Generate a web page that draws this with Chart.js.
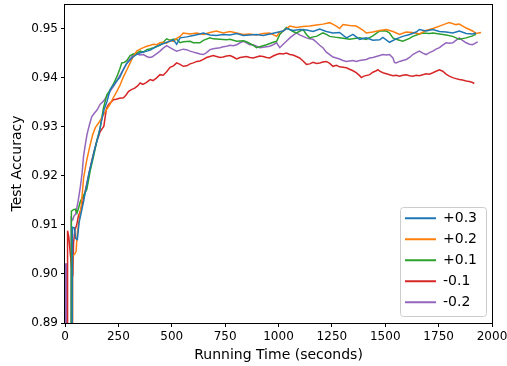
<!DOCTYPE html>
<html><head><meta charset="utf-8">
<script src="https://cdn.jsdelivr.net/npm/chart.js@4/dist/chart.umd.min.js"></script>
<style>html,body{margin:0;padding:0;background:#fff;}canvas{display:block;}</style>
</head><body>
<canvas id="c" width="507" height="366"></canvas>
<script>
const seriesLabels = ['+0.3', '+0.2', '+0.1', '-0.1', '-0.2'];
const seriesColors = ['#1f77b4', '#ff7f0e', '#2ca02c', '#d62728', '#9467bd'];
const xTickValues = [0, 250, 500, 750, 1000, 1250, 1500, 1750, 2000];
const yTickValues = [0.89, 0.90, 0.91, 0.92, 0.93, 0.94, 0.95];
const xTitle = 'Running Time (seconds)';
const yTitle = 'Test Accuracy';

// [seconds, accuracy]
const accPlus03 = [[0,0.85],[32,0.85],[35,0.9095],[44,0.9094],[50,0.9072],[58,0.9070],[66,0.9105],[76,0.9125],[88,0.915],[100,0.9178],[112,0.9205],[125,0.9228],[140,0.9256],[157,0.9282],[170,0.931],[183,0.9335],[197,0.9352],[212,0.9376],[226,0.9384],[240,0.9392],[256,0.9400],[273,0.9416],[287,0.9428],[300,0.9434],[320,0.9443],[335,0.9447],[350,0.9450],[367,0.9452],[383,0.9454],[400,0.9456],[415,0.9460],[430,0.9463],[445,0.9467],[460,0.9469],[476,0.9472],[492,0.9474],[508,0.9477],[523,0.9468],[539,0.9481],[570,0.9483],[601,0.9486],[632,0.9489],[648,0.9491],[679,0.9487],[710,0.9486],[741,0.9488],[773,0.9487],[804,0.9490],[835,0.9486],[866,0.9487],[897,0.9488],[928,0.9486],[960,0.9489],[991,0.9492],[1022,0.9495],[1037,0.9500],[1068,0.9496],[1100,0.9498],[1131,0.9497],[1162,0.9494],[1193,0.9499],[1224,0.9494],[1255,0.9491],[1286,0.9492],[1318,0.9481],[1349,0.9488],[1380,0.9478],[1411,0.9481],[1442,0.9476],[1474,0.9477],[1489,0.9482],[1520,0.9472],[1551,0.9479],[1582,0.9484],[1614,0.9488],[1645,0.9493],[1660,0.9498],[1691,0.9495],[1723,0.9498],[1754,0.9494],[1785,0.9493],[1816,0.9491],[1847,0.9495],[1879,0.9490],[1909,0.9489],[1925,0.9491]];
const accPlus02 = [[0,0.85],[33,0.85],[36,0.9037],[45,0.9040],[52,0.9046],[58,0.9085],[66,0.9108],[76,0.9138],[87,0.9195],[100,0.9228],[115,0.9258],[130,0.9284],[142,0.9298],[158,0.9308],[172,0.9318],[185,0.9328],[196,0.9336],[210,0.9345],[225,0.9358],[243,0.9372],[258,0.9385],[274,0.9402],[290,0.9416],[305,0.9430],[320,0.9443],[336,0.9454],[352,0.9458],[367,0.9461],[383,0.9464],[400,0.9466],[415,0.9468],[430,0.9467],[445,0.9471],[460,0.9472],[476,0.9470],[492,0.9476],[508,0.9474],[523,0.9480],[539,0.9484],[554,0.9491],[586,0.9489],[617,0.9491],[648,0.9488],[679,0.9492],[709,0.9495],[741,0.9491],[773,0.9494],[804,0.9491],[835,0.9488],[866,0.9489],[897,0.9487],[928,0.9490],[959,0.9491],[991,0.9484],[1006,0.9493],[1022,0.9495],[1053,0.9505],[1084,0.9502],[1115,0.9504],[1146,0.9505],[1178,0.9507],[1208,0.9509],[1240,0.9512],[1271,0.9505],[1286,0.9500],[1302,0.9508],[1333,0.9506],[1364,0.9505],[1395,0.9497],[1411,0.9491],[1442,0.9493],[1474,0.9496],[1505,0.9498],[1536,0.9494],[1567,0.9488],[1598,0.9493],[1629,0.9492],[1660,0.9489],[1691,0.9496],[1723,0.9500],[1754,0.9505],[1785,0.9510],[1800,0.9512],[1831,0.9508],[1847,0.9509],[1879,0.9501],[1909,0.9495],[1925,0.9490],[1949,0.9492]];
const accPlus01 = [[0,0.85],[28,0.85],[30,0.9128],[40,0.9131],[48,0.9132],[56,0.9124],[64,0.9135],[72,0.9148],[87,0.9160],[102,0.9172],[118,0.9210],[134,0.9240],[150,0.9273],[165,0.9298],[180,0.9338],[196,0.9365],[210,0.9374],[227,0.9387],[245,0.9404],[257,0.9418],[266,0.9430],[278,0.9431],[290,0.9435],[305,0.9445],[320,0.9448],[336,0.9450],[352,0.9454],[367,0.9452],[383,0.9457],[400,0.9459],[415,0.9461],[430,0.9464],[445,0.9466],[460,0.9472],[476,0.9479],[492,0.9476],[508,0.9478],[523,0.9478],[539,0.9471],[554,0.9473],[586,0.9474],[601,0.9471],[632,0.9471],[648,0.9476],[679,0.9481],[694,0.9479],[726,0.9478],[757,0.9477],[773,0.9478],[804,0.9474],[835,0.9475],[850,0.9473],[881,0.9466],[897,0.9461],[928,0.9465],[944,0.9467],[975,0.9472],[991,0.9474],[1006,0.9488],[1022,0.9495],[1037,0.9502],[1053,0.9498],[1068,0.9494],[1084,0.9491],[1115,0.9498],[1131,0.9488],[1146,0.9481],[1162,0.9483],[1178,0.9484],[1208,0.9491],[1224,0.9488],[1240,0.9484],[1271,0.9482],[1286,0.9481],[1318,0.9479],[1333,0.9478],[1364,0.9480],[1380,0.9481],[1411,0.9478],[1442,0.9485],[1474,0.9495],[1505,0.9495],[1520,0.9491],[1536,0.9481],[1551,0.9478],[1582,0.9474],[1614,0.9480],[1629,0.9484],[1660,0.9489],[1676,0.9491],[1707,0.9490],[1723,0.9491],[1754,0.9489],[1785,0.9487],[1816,0.9484],[1847,0.9478],[1879,0.9481],[1909,0.9485],[1925,0.9488]];
const accMinus01 = [[0,0.85],[11,0.85],[12,0.9088],[18,0.9075],[25,0.9040],[32,0.9010],[37,0.9003],[40,0.9063],[47,0.9090],[55,0.9100],[63,0.9118],[71,0.9127],[80,0.9140],[90,0.9160],[103,0.9185],[115,0.9210],[126,0.9232],[138,0.9252],[150,0.9272],[165,0.9290],[182,0.9301],[190,0.9325],[195,0.9338],[205,0.9346],[216,0.9350],[227,0.9355],[240,0.9356],[255,0.9358],[274,0.9359],[285,0.9364],[298,0.9372],[313,0.9376],[325,0.9378],[340,0.9383],[352,0.9389],[365,0.9386],[380,0.9390],[399,0.9396],[412,0.9394],[428,0.9399],[445,0.9406],[460,0.9405],[476,0.9412],[492,0.9421],[508,0.9424],[523,0.9430],[539,0.9427],[554,0.9423],[570,0.9424],[586,0.9428],[601,0.9430],[617,0.9433],[632,0.9434],[648,0.9437],[663,0.9441],[679,0.9443],[694,0.9445],[710,0.9443],[726,0.9441],[741,0.9442],[757,0.9444],[773,0.9445],[788,0.9442],[804,0.9438],[820,0.9441],[835,0.9442],[850,0.9443],[866,0.9441],[881,0.9440],[897,0.9442],[912,0.9444],[928,0.9443],[944,0.9441],[959,0.9440],[975,0.9444],[991,0.9447],[1006,0.9449],[1022,0.9448],[1037,0.9450],[1053,0.9447],[1068,0.9446],[1084,0.9443],[1099,0.9440],[1115,0.9434],[1131,0.9427],[1146,0.9428],[1162,0.9431],[1178,0.9429],[1193,0.9430],[1208,0.9432],[1224,0.9433],[1240,0.9429],[1255,0.9423],[1271,0.9425],[1286,0.9422],[1302,0.9421],[1318,0.9420],[1333,0.9417],[1349,0.9414],[1364,0.9410],[1380,0.9404],[1388,0.9400],[1400,0.9403],[1427,0.9406],[1442,0.9411],[1458,0.9414],[1466,0.9416],[1474,0.9413],[1489,0.9410],[1505,0.9408],[1520,0.9406],[1536,0.9404],[1551,0.9405],[1567,0.9403],[1582,0.9405],[1598,0.9406],[1614,0.9404],[1629,0.9403],[1645,0.9405],[1660,0.9404],[1676,0.9406],[1691,0.9408],[1707,0.9407],[1723,0.9410],[1738,0.9413],[1754,0.9416],[1769,0.9413],[1785,0.9407],[1800,0.9403],[1816,0.9400],[1831,0.9398],[1847,0.9396],[1862,0.9395],[1879,0.9393],[1894,0.9392],[1909,0.9390],[1917,0.9388]];
const accMinus02 = [[0,0.85],[2,0.9020],[8,0.9020],[10,0.85],[27,0.85],[29,0.9114],[36,0.9110],[42,0.9118],[50,0.9122],[62,0.9150],[72,0.9178],[80,0.9205],[87,0.9240],[95,0.9263],[103,0.9284],[112,0.9300],[125,0.9320],[138,0.9328],[150,0.9334],[165,0.9346],[180,0.9352],[196,0.9362],[211,0.9372],[227,0.9382],[242,0.9393],[258,0.9405],[270,0.9414],[282,0.9423],[295,0.9433],[308,0.9440],[320,0.9447],[335,0.9449],[350,0.9446],[367,0.9447],[383,0.9443],[395,0.9441],[407,0.9442],[420,0.9446],[433,0.9450],[445,0.9454],[460,0.9460],[476,0.9465],[492,0.9461],[508,0.9457],[523,0.9454],[539,0.9456],[554,0.9458],[569,0.9457],[586,0.9454],[601,0.9452],[617,0.9450],[632,0.9448],[648,0.9447],[663,0.9451],[679,0.9457],[694,0.9459],[710,0.9460],[726,0.9461],[741,0.9463],[757,0.9464],[773,0.9466],[788,0.9465],[804,0.9467],[820,0.9471],[835,0.9474],[850,0.9471],[866,0.9467],[881,0.9467],[897,0.9464],[913,0.9461],[928,0.9462],[944,0.9463],[959,0.9464],[975,0.9467],[991,0.9471],[1006,0.9461],[1022,0.9468],[1037,0.9474],[1053,0.9481],[1068,0.9486],[1084,0.9491],[1099,0.9487],[1115,0.9484],[1131,0.9481],[1146,0.9479],[1162,0.9478],[1178,0.9472],[1193,0.9466],[1208,0.9461],[1224,0.9452],[1240,0.9447],[1255,0.9442],[1271,0.9440],[1286,0.9438],[1302,0.9435],[1318,0.9433],[1333,0.9434],[1349,0.9435],[1364,0.9433],[1380,0.9435],[1395,0.9436],[1411,0.9437],[1427,0.9440],[1442,0.9441],[1458,0.9443],[1474,0.9445],[1489,0.9447],[1505,0.9446],[1520,0.9447],[1536,0.9440],[1543,0.9431],[1551,0.9430],[1567,0.9433],[1582,0.9435],[1598,0.9437],[1614,0.9441],[1629,0.9447],[1645,0.9451],[1660,0.9454],[1676,0.9450],[1691,0.9447],[1707,0.9451],[1723,0.9454],[1738,0.9458],[1754,0.9461],[1769,0.9466],[1785,0.9471],[1800,0.9470],[1816,0.9471],[1831,0.9476],[1847,0.9481],[1862,0.9476],[1879,0.9471],[1894,0.9468],[1909,0.9467],[1933,0.9473]];

const seriesData = [accPlus03, accPlus02, accPlus01, accMinus01, accMinus02];

const FONT = 'DejaVu Sans';

const framePlugin = {
  id: 'mplFrame',
  beforeDraw(chart) {
    const lg = chart.legend;
    if (lg) {
      lg.left = 398; lg.top = 204.3; lg.width = 92; lg.height = 116;
      lg.right = lg.left + lg.width; lg.bottom = lg.top + lg.height;
    }
    const ctx = chart.ctx;
    ctx.save();
    ctx.beginPath();
    ctx.roundRect(400.5, 207.5, 86, 109, 3);
    ctx.fillStyle = 'rgba(255,255,255,0.8)';
    ctx.fill();
    ctx.strokeStyle = '#cccccc';
    ctx.lineWidth = 1;
    ctx.stroke();
    ctx.restore();
  },
  afterDraw(chart) {
    const {left, top, right, bottom} = chart.chartArea;
    const ctx = chart.ctx;
    ctx.save();
    ctx.strokeStyle = '#000';
    ctx.lineWidth = 1;
    ctx.strokeRect(left - 0.5, top + 0.5, right - left + 1, bottom - top);
    ctx.restore();
  }
};

new Chart(document.getElementById('c'), {
  type: 'line',
  data: {
    datasets: seriesLabels.map((lab, i) => ({
      label: lab,
      data: seriesData[i].map(p => ({x: p[0], y: p[1]})),
      borderColor: seriesColors[i],
      backgroundColor: seriesColors[i],
      borderWidth: 1.5,
      pointRadius: 0,
      tension: 0,
      fill: false
    }))
  },
  options: {
    responsive: false,
    animation: false,
    devicePixelRatio: 1,
    events: [],
    layout: {padding: {top: 4, right: 15, bottom: 0, left: 0}},
    scales: {
      x: {
        type: 'linear', min: 0, max: 2000,
        afterBuildTicks: s => { s.ticks = xTickValues.map(v => ({value: v})); },
        afterFit: s => { s.height = 43; s.paddingLeft = 0; s.paddingRight = 0; },
        ticks: {color: '#000', font: {family: FONT, size: 12}, padding: 3, maxRotation: 0, autoSkip: false,
                callback: v => String(v)},
        grid: {display: true, drawOnChartArea: false, drawTicks: true, tickLength: 4, color: '#000', lineWidth: 1},
        border: {display: false},
        title: {display: true, text: xTitle, color: '#000', font: {family: FONT, size: 14}, padding: {top: 0, bottom: 2.6}}
      },
      y: {
        type: 'linear', min: 0.89, max: 0.955,
        afterBuildTicks: s => { s.ticks = yTickValues.map(v => ({value: v})); },
        afterFit: s => { s.width = 65; s.paddingTop = 0; s.paddingBottom = 0; },
        ticks: {color: '#000', font: {family: FONT, size: 12}, padding: 3, callback: v => Number(v).toFixed(2)},
        grid: {display: true, drawOnChartArea: false, drawTicks: true, tickLength: 4, color: '#000', lineWidth: 1},
        border: {display: false},
        title: {display: true, text: yTitle, color: '#000', font: {family: FONT, size: 14}, padding: {top: 8.6, bottom: 0}}
      }
    },
    plugins: {
      tooltip: {enabled: false},
      legend: {
        display: true,
        position: 'chartArea',
        align: 'start',
        labels: {
          font: {family: FONT, size: 14},
          color: '#000',
          boxWidth: 31,
          boxHeight: 2,
          padding: 7,
          generateLabels: chart => chart.data.datasets.map((ds, i) => ({
            text: ds.label, fillStyle: ds.borderColor, strokeStyle: ds.borderColor,
            lineWidth: 0, hidden: false, datasetIndex: i, fontColor: '#000'
          }))
        }
      }
    }
  },
  plugins: [framePlugin]
});
</script>
</body></html>
